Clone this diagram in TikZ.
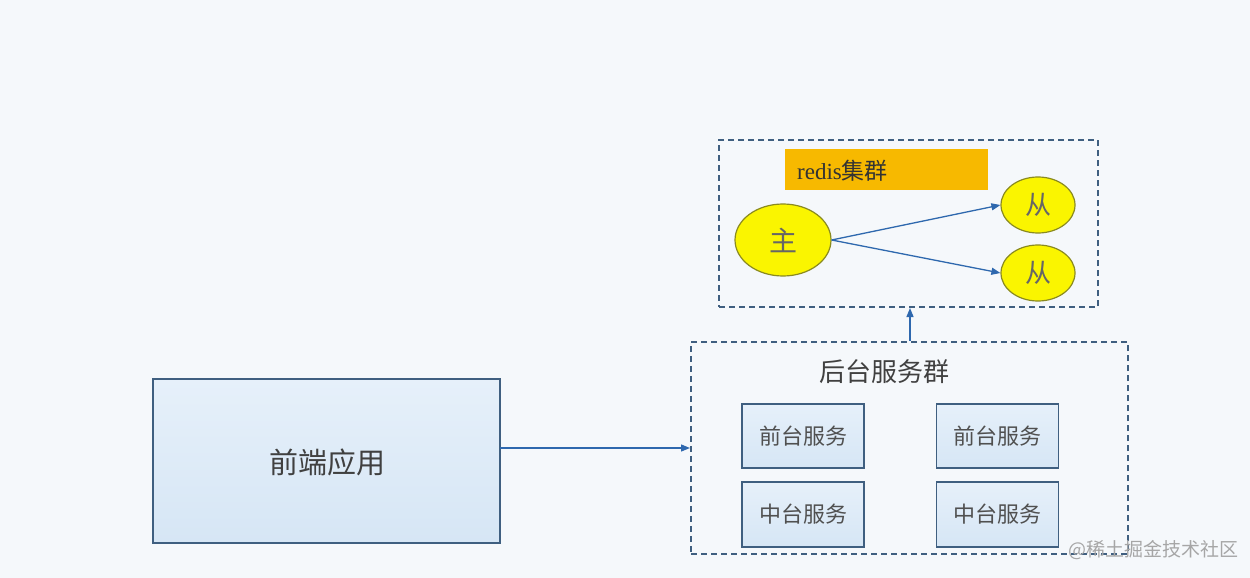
\documentclass[tikz,border=0pt]{standalone}
\usepackage{fontspec}
\newfontfamily\cjk{Noto Sans CJK SC}
\setmainfont{Liberation Serif}
\usetikzlibrary{shapes.geometric,arrows.meta}
\definecolor{bgc}{HTML}{F5F8FB}
\definecolor{bordc}{HTML}{3F5F80}
\definecolor{boxtop}{HTML}{E6F0FA}
\definecolor{boxbot}{HTML}{D6E6F5}
\definecolor{arrc}{HTML}{2E68AE}
\definecolor{orng}{HTML}{F7B900}
\definecolor{yell}{HTML}{FAF500}
\definecolor{yellb}{HTML}{8A8A20}
\definecolor{txtc}{HTML}{505050}
\tikzset{
  solidbox/.style={draw=bordc, line width=1.3pt, top color=boxtop, bottom color=boxbot, inner sep=0pt},
  groupbox/.style={draw=bordc, line width=1.4pt, dash pattern=on 6pt off 4pt, inner sep=0pt},
  yellnode/.style={ellipse, draw=yellb, line width=1.2pt, fill=yell, inner sep=0pt},
  conn/.style={draw=arrc, line width=1.3pt, -{Triangle[length=9pt,width=7pt]}},
  svc/.style={solidbox, minimum width=122pt, font=\cjk\fontsize{22}{26}\selectfont, text=txtc},
}
\begin{document}
\begin{tikzpicture}[x=1pt,y=-1pt]
\useasboundingbox (0,0) rectangle (1250,578);
\fill[bgc] (0,0) rectangle (1250,578);
% front app
\node[solidbox, minimum width=347pt, minimum height=164pt] (fe) at (326.5,461) {};
\node[font=\cjk\fontsize{29}{32}\selectfont, text=black!75] (fet) at (327,462) {前端应用};
% backend group
\node[groupbox, minimum width=437pt, minimum height=212pt] (be) at (909.5,448) {};
\node[font=\cjk\fontsize{26}{30}\selectfont, text=black!75] (bet) at (884,372) {后台服务群};
\node[svc, minimum height=64pt] (s1) at (803,436) {前台服务};
\node[svc, minimum height=64pt] (s2) at (997.5,436) {前台服务};
\node[svc, minimum height=65pt] (s3) at (803,514.5) {中台服务};
\node[svc, minimum height=65pt] (s4) at (997.5,514.5) {中台服务};
% redis group
\node[groupbox, minimum width=379pt, minimum height=167pt] (rg) at (908.5,223.5) {};
\node[fill=orng, minimum width=203pt, minimum height=41pt, inner sep=0pt] (ro) at (886.5,169.5) {};
\node[anchor=west, inner sep=0pt, text=black!80] (rt) at (797,171) {\fontsize{23}{26}\selectfont redis\cjk 集群};
\node[yellnode, minimum width=96pt, minimum height=72pt, font=\cjk\fontsize{28}{32}\selectfont, text=black!60] (m) at (783,240) {主};
\node[yellnode, minimum width=74pt, minimum height=56pt, font=\cjk\fontsize{26}{30}\selectfont, text=black!60] (sl1) at (1038,205) {从};
\node[yellnode, minimum width=74pt, minimum height=56pt, font=\cjk\fontsize{26}{30}\selectfont, text=black!60] (sl2) at (1038,273) {从};
% connectors
\coordinate (fea) at (500,448);
\coordinate (bea) at (690,448);
\draw[conn] (fea) -- (bea);
\coordinate (beu) at (910,341);
\coordinate (rgd) at (910,308);
\draw[conn] (beu) -- (rgd);
\draw[conn] (m.east) -- (sl1.west);
\draw[conn] (m.east) -- (sl2.west);
% watermark
\node[anchor=east, font=\cjk\fontsize{19}{22}\selectfont, text=black!35] (wm) at (1242,550) {@稀土掘金技术社区};
\end{tikzpicture}
\end{document}
